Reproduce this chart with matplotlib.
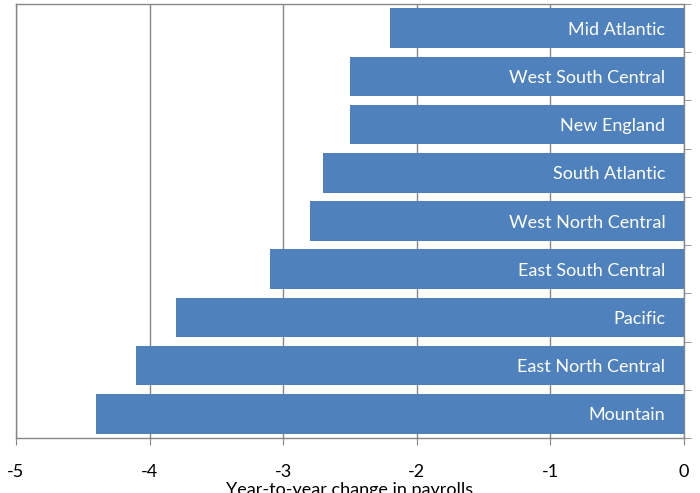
import matplotlib
matplotlib.use("Agg")
from matplotlib import pyplot as plt
import numpy as np

# regions, listed bottom to top as drawn
regions = ['Mountain', 'East North Central', 'Pacific', 'East South Central',
           'West North Central', 'South Atlantic', 'New England',
           'West South Central', 'Mid Atlantic']
change = [-4.4, -4.1, -3.8, -3.1, -2.8, -2.7, -2.5, -2.5, -2.2]
xticks = [-5, -4, -3, -2, -1, 0]

plt.rcParams['font.family'] = ['Lato', 'DejaVu Sans']

fig = plt.figure(figsize=(7, 4.93), dpi=100)
ax = fig.add_axes([16/700, 1-438/493, 668/700, 434/493])

ypos = np.arange(len(regions))
ax.barh(ypos, change, height=0.82, color='#4F81BD', zorder=3)

# region names inside the bars
for y, name in zip(ypos, regions):
    ax.text(-0.14, y, name, color='white', fontsize=13, ha='right',
            va='center_baseline', zorder=4)

ax.set_xlim(-5, 0)
ax.set_ylim(-0.5, len(regions) - 0.5)
ax.set_xticks(xticks)
ax.set_xticklabels([str(t) for t in xticks], fontsize=13)
ax.tick_params(axis='x', direction='out', length=5, color='#868686', pad=14)
ax.grid(axis='x', color='#868686', linewidth=1, zorder=0)

# category ticks on the zero line
ax.yaxis.tick_right()
ax.set_yticks([])
ax.set_yticks(np.arange(-0.5, len(regions)), minor=True)
ax.tick_params(axis='y', which='minor', direction='out', length=5, color='#868686')

for s in ax.spines.values():
    s.set_color('#868686')
    s.set_linewidth(1)

ax.set_xlabel('Year-to-year change in payrolls', fontsize=13, labelpad=1)

fig.savefig('out.png', dpi=100)
